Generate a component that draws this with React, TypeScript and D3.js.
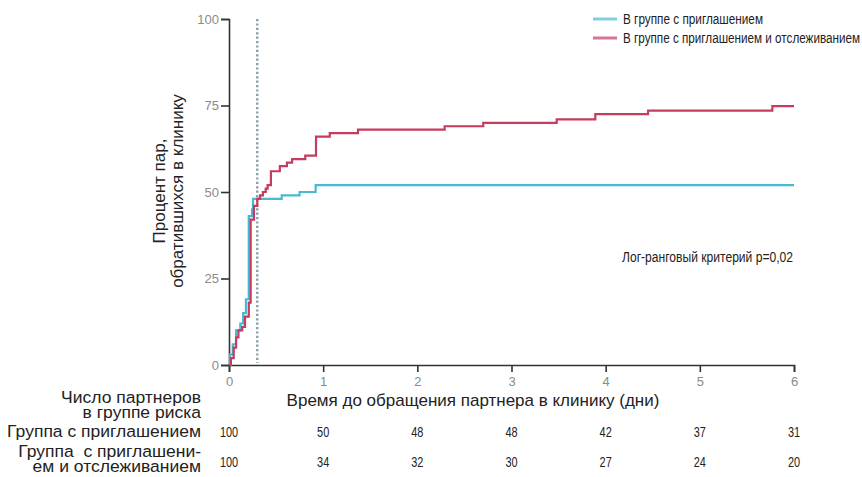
import { useEffect, useRef } from 'react';
import * as d3 from 'd3';

// time in days, percent of partners seen at clinic
const inviteTimes = [0, 0.01, 0.04, 0.075, 0.12, 0.15, 0.18, 0.21, 0.245, 0.255, 0.56, 0.75, 0.92, 6];
const inviteValues = [0, 3, 6, 10, 12, 15, 19, 43, 45, 48, 49, 50, 52, 52];

const trackTimes = [0, 0.02, 0.05, 0.075, 0.1, 0.14, 0.17, 0.21, 0.23, 0.265, 0.3, 0.33, 0.36, 0.39, 0.41, 0.445, 0.54, 0.615, 0.67, 0.81, 0.924, 1.07, 1.37, 2.29, 2.7, 3.48, 3.89, 4.45, 5.77, 6];
const trackValues = [0, 2, 5, 8, 10, 11, 14, 18, 42, 46, 48, 49, 50, 51, 52, 56, 57.5, 58.5, 59.5, 60.5, 66, 67, 68, 69, 70, 71, 72.5, 73.5, 74.8, 74.8];

const dayTicks = [0, 1, 2, 3, 4, 5, 6];
const pctTicks = [0, 25, 50, 75, 100];
const atRiskInvite = [100, 50, 48, 48, 42, 37, 31];
const atRiskTrack = [100, 34, 32, 30, 27, 24, 20];

const seriesNames = ['В группе с приглашением', 'В группе с приглашением и отслеживанием'];
const seriesColors = ['#48b9d4', '#c63b5e'];
const dottedDay = 0.3;

const sans = '"Liberation Sans", Arial, sans-serif';

function KaplanChart() {
  const svgRef = useRef(null);

  useEffect(() => {
    const svg = d3.select(svgRef.current);
    svg.selectAll('*').remove();

    const x = d3.scaleLinear().domain([0, 6]).range([229, 794]);
    const y = d3.scaleLinear().domain([0, 100]).range([365, 19]);

    // squeezed / stretched text, stands in for the faces of the original
    const scaledText = (parent, tx, ty, str, size, anchor = 'start', sx = 0.8) =>
      parent.append('text')
        .attr('transform', `translate(${tx}, ${ty}) scale(${sx}, 1)`)
        .attr('text-anchor', anchor)
        .style('font-family', sans)
        .style('font-size', `${size}px`)
        .style('white-space', 'pre')
        .attr('fill', '#222')
        .text(str);

    // dotted reference line
    svg.append('line')
      .attr('x1', x(dottedDay)).attr('x2', x(dottedDay))
      .attr('y1', y(100)).attr('y2', y(0) - 2)
      .attr('stroke', '#8a9da8')
      .attr('stroke-width', 2.4)
      .attr('stroke-dasharray', '2.2,2.2');

    const xAxis = svg.append('g')
      .attr('transform', `translate(0, ${y(0)})`)
      .call(d3.axisBottom(x).tickValues(dayTicks).tickFormat(d3.format('d')).tickSize(7).tickPadding(5));
    const yAxis = svg.append('g')
      .attr('transform', `translate(${x(0)}, 0)`)
      .call(d3.axisLeft(y).tickValues(pctTicks).tickSize(8).tickPadding(2));

    [xAxis, yAxis].forEach((ax) => {
      ax.select('.domain').attr('stroke', '#333').attr('stroke-width', 1.6);
      ax.selectAll('.tick line').attr('stroke', '#333').attr('stroke-width', 1.6);
      ax.selectAll('.tick text')
        .attr('fill', '#8a8a8a')
        .style('font-family', sans)
        .style('font-size', '13px');
    });

    const line = d3.line().curve(d3.curveStepAfter);
    const series = [
      inviteTimes.map((t, i) => [x(t), y(inviteValues[i])]),
      trackTimes.map((t, i) => [x(t), y(trackValues[i])]),
    ];
    series.forEach((pts, i) => {
      svg.append('path')
        .attr('d', line(pts))
        .attr('fill', 'none')
        .attr('stroke', seriesColors[i])
        .attr('stroke-width', 2.2);
    });

    // legend
    const legendWidths = [140, 237];
    seriesNames.forEach((name, i) => {
      const ly = 19 + i * 19;
      svg.append('line')
        .attr('x1', 593).attr('x2', 617)
        .attr('y1', ly).attr('y2', ly)
        .attr('stroke', seriesColors[i])
        .attr('stroke-opacity', 0.7)
        .attr('stroke-width', 3);
      svg.append('text')
        .attr('x', 623).attr('y', ly + 5)
        .attr('textLength', legendWidths[i])
        .attr('lengthAdjust', 'spacingAndGlyphs')
        .style('font-family', sans)
        .style('font-size', '14px')
        .attr('fill', '#222')
        .text(name);
    });

    svg.append('text')
      .attr('x', 622).attr('y', 262)
      .attr('textLength', 171)
      .attr('lengthAdjust', 'spacingAndGlyphs')
      .style('font-family', sans)
      .style('font-size', '14px')
      .attr('fill', '#222')
      .text('Лог-ранговый критерий p=0,02');

    // y label
    const yl = svg.append('text')
      .attr('transform', 'translate(165, 191) rotate(-90)')
      .attr('text-anchor', 'middle')
      .style('font-family', sans)
      .style('font-size', '17px')
      .attr('fill', '#222');
    yl.append('tspan').attr('x', 0).attr('dy', 0).text('Процент пар,');
    yl.append('tspan').attr('x', 0).attr('dy', 18).text('обратившихся в клинику');

    svg.append('text')
      .attr('x', 473).attr('y', 406)
      .attr('text-anchor', 'middle')
      .style('font-family', sans)
      .style('font-size', '17px')
      .attr('fill', '#222')
      .text('Время до обращения партнера в клинику (дни)');

    // at-risk table
    const rowLabels = [
      ['Число партнеров', 403],
      ['в группе риска', 418],
      ['Группа с приглашением', 437],
      ['Группа  с приглашени-', 457],
      ['ем и отслеживанием', 472],
    ];
    const labels = svg.append('g');
    rowLabels.forEach(([t, ty]) => scaledText(labels, 201, ty, t, 17, 'end', 1.03));

    [atRiskInvite, atRiskTrack].forEach((row, r) => {
      const g = svg.append('g');
      row.forEach((d, i) => scaledText(g, x(dayTicks[i]), r === 0 ? 437 : 467, d, 14, 'middle', 0.78));
    });
  }, []);

  return <svg ref={svgRef} width={862} height={477} style={{ position: 'absolute', left: 0, top: 0 }} />;
}

export default function App() {
  return (
    <div style={{ background: '#fff' }}>
      <KaplanChart />
    </div>
  );
}
